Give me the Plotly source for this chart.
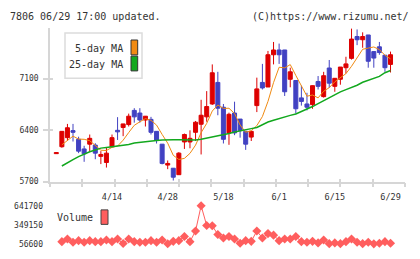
import plotly.graph_objects as go

# ---------------- data ----------------
dates = ["3/31", "4/1", "4/2", "4/3", "4/6", "4/7", "4/8", "4/9", "4/10", "4/13",
         "4/14", "4/15", "4/16", "4/17", "4/20", "4/21", "4/22", "4/23", "4/24", "4/27",
         "4/28", "4/30", "5/1", "5/7", "5/8", "5/11", "5/12", "5/13", "5/14", "5/15",
         "5/18", "5/19", "5/20", "5/21", "5/22", "5/25", "5/26", "5/27", "5/28", "5/29",
         "6/1", "6/2", "6/3", "6/4", "6/5", "6/8", "6/9", "6/10", "6/11", "6/12",
         "6/15", "6/16", "6/17", "6/18", "6/19", "6/22", "6/23", "6/24", "6/25", "6/26",
         "6/29"]

opens = [6080, 6174, 6297, 6393, 6275, 6144, 6209, 6196, 6043, 5960,
         6174, 6397, 6436, 6475, 6668, 6632, 6537, 6546, 6383, 6209,
         5925, 5882, 5794, 6239, 6239, 6370, 6480, 6580, 6755, 7048,
         6711, 6362, 6632, 6550, 6383, 6305, 6733, 7048, 6986, 7424,
         7489, 7489, 7091, 7074, 6838, 6755, 6746, 7061, 6855, 7244,
         6995, 7091, 7248, 7375, 7672, 7628, 7693, 7467, 7532, 7418,
         7293]
highs = [6095, 6383, 6484, 6484, 6310, 6187, 6340, 6222, 6114, 6166,
         6340, 6576, 6484, 6624, 6698, 6698, 6589, 6580, 6383, 6209,
         5987, 5882, 6100, 6353, 6397, 6524, 6812, 6930, 7293, 7192,
         6755, 6637, 6786, 6550, 6383, 6383, 7113, 7300, 7476, 7598,
         7576, 7489, 7248, 7074, 7004, 6907, 7004, 7135, 7192, 7353,
         7104, 7257, 7397, 7781, 7768, 7729, 7693, 7467, 7598, 7418,
         7467]
lows = [6080, 6160, 6252, 6245, 6087, 5969, 6114, 6004, 5938, 5891,
        6166, 6266, 6318, 6449, 6501, 6501, 6449, 6340, 6218, 5934,
        5869, 5715, 5794, 6144, 6153, 6252, 6069, 6514, 6742, 6602,
        6218, 6200, 6331, 6297, 6131, 6252, 6645, 6952, 6986, 7293,
        7300, 6864, 6982, 6624, 6733, 6668, 6690, 6952, 6842, 6973,
        6921, 7017, 7169, 7358, 7555, 7519, 7248, 7248, 7424, 7192,
        7183]
closes = [6095, 6383, 6432, 6370, 6114, 6078, 6288, 6087, 6069, 6087,
          6297, 6376, 6484, 6589, 6580, 6537, 6589, 6370, 6262, 5947,
          5947, 5760, 6087, 6340, 6288, 6507, 6602, 6720, 7179, 6698,
          6275, 6615, 6362, 6393, 6209, 6383, 6960, 6973, 7424, 7489,
          7424, 6921, 7192, 6690, 6790, 6711, 7004, 6995, 7139, 7038,
          7104, 7257, 7300, 7637, 7628, 7672, 7336, 7379, 7454, 7248,
          7424]

ma5 = [None, 6200, 6253, 6318, 6278, 6275, 6256, 6187, 6127, 6122,
       6166, 6183, 6263, 6367, 6465, 6513, 6556, 6533, 6468, 6341,
       6223, 6057, 6001, 6016, 6084, 6196, 6365, 6491, 6659, 6741,
       6695, 6697, 6626, 6469, 6371, 6392, 6461, 6584, 6790, 7046,
       7254, 7246, 7290, 7143, 7003, 6861, 6877, 6838, 6928, 6977,
       7056, 7107, 7168, 7267, 7385, 7499, 7515, 7530, 7494, 7418,
       7368]
ma25 = [None, 5912, 5960, 6000, 6040, 6075, 6105, 6130, 6155, 6165,
        6175, 6185, 6195, 6205, 6225, 6235, 6245, 6252, 6260, 6265,
        6272, 6270, 6268, 6265, 6262, 6265, 6275, 6290, 6300, 6320,
        6340, 6355, 6375, 6393, 6405, 6420, 6436, 6475, 6510, 6535,
        6559, 6580, 6600, 6620, 6650, 6685, 6720, 6760, 6800, 6840,
        6890, 6920, 6950, 6975, 7010, 7050, 7075, 7095, 7130, 7180,
        7210]

volume = [None, 90800, 131000, 80400, 105700, 80400, 105700, 90800, 90800, 116200,
          90800, 131000, 62000, 131000, 90800, 80400, 80400, 105700, 80400, 116200,
          58000, 95300, 105700, 169800, 90800, 254600, 641700, 339500, 335000, 199500,
          146000, 169800, 131000, 65500, 105700, 95300, 254600, 146000, 214400, 190600,
          105700, 131000, 131000, 169800, 90800, 80400, 95300, 71500, 116200, 60000,
          71500, 60000, 90800, 131000, 80400, 60000, 80400, 56600, 65500, 90800,
          65500]

price_ticks = [5700, 6400, 7100]
vol_ticks = [56600, 349150, 641700]
label_dates = ["4/14", "4/28", "5/18", "6/1", "6/15", "6/29"]

# ---------------- styling ----------------
W, H = 420, 259
UP = "#dd0000"
DOWN = "#4242c2"
ORANGE = "#f08a12"
GREEN = "#12a81e"
VOLC = "#ff5e5e"
AXC = "#d6d6d6"
TXT = "#333333"
FONT = "DejaVu Sans Mono"

def px_x(p):
    return p / W

def px_y(p):
    return 1 - p / H

x = list(range(len(dates)))
colors = [UP if c >= o else DOWN for o, c in zip(opens, closes)]
base = [min(o, c) for o, c in zip(opens, closes)]
body = [abs(c - o) for o, c in zip(opens, closes)]

xr = [-1.13, 62.6]
yr = [5700, 7786]
div_ticks = [xr[0] + k * (xr[1] - xr[0]) / 11 for k in range(12)]
label_pos = [dates.index(d) for d in label_dates]

fig = go.Figure()

# wicks
for col in (UP, DOWN):
    wx, wy = [], []
    for i in x:
        if colors[i] == col:
            wx += [i, i, None]
            wy += [lows[i], highs[i], None]
    fig.add_trace(go.Scatter(x=wx, y=wy, mode="lines", line=dict(color=col, width=1),
                             hoverinfo="skip", cliponaxis=False))

# bodies
fig.add_trace(go.Bar(x=x, y=body, base=base, width=0.72,
                     marker=dict(color=colors, line=dict(color=colors, width=1)),
                     cliponaxis=False))

# moving averages
fig.add_trace(go.Scatter(x=x, y=ma5, mode="lines", line=dict(color=ORANGE, width=1)))
fig.add_trace(go.Scatter(x=x, y=ma25, mode="lines", line=dict(color=GREEN, width=1.5)))

# volume
fig.add_trace(go.Scatter(x=x, y=volume, mode="lines+markers", xaxis="x2", yaxis="y2",
                         line=dict(color=VOLC, width=1),
                         marker=dict(symbol="diamond", size=7, color=VOLC),
                         cliponaxis=False))

# invisible carriers so the helper axes (inside ticks, date labels) get drawn
fig.add_trace(go.Scatter(x=[x[0]], y=[closes[0]], xaxis="x3", yaxis="y3", mode="markers",
                         marker=dict(opacity=0), hoverinfo="skip"))
fig.add_trace(go.Scatter(x=[x[0]], y=[closes[0]], xaxis="x4", yaxis="y", mode="markers",
                         marker=dict(opacity=0), hoverinfo="skip"))

xdom = [px_x(50), px_x(405)]
ydom = [px_y(184), px_y(25)]
vdom = [px_y(248.5), px_y(209)]
tickfont8 = dict(family=FONT, size=8, color=TXT)

fig.update_layout(
    width=W, height=H, margin=dict(l=0, r=0, t=0, b=0),
    paper_bgcolor="white", plot_bgcolor="white",
    showlegend=False, barmode="overlay",
    font=dict(family=FONT, color=TXT, size=8),
    xaxis=dict(domain=xdom, range=xr, anchor="y", showgrid=False, zeroline=False,
               showline=True, linecolor=AXC, linewidth=1.5,
               tickmode="array", tickvals=div_ticks, ticks="outside", ticklen=4,
               tickcolor=AXC, tickwidth=1.5, showticklabels=False),
    xaxis3=dict(domain=xdom, range=xr, anchor="y3", overlaying="x", showgrid=False,
                zeroline=False, showline=False, tickmode="array", tickvals=div_ticks,
                ticks="inside", ticklen=3, tickcolor=AXC, tickwidth=1.5,
                showticklabels=False),
    xaxis4=dict(domain=xdom, range=xr, anchor="y", overlaying="x", side="bottom",
                showgrid=False, zeroline=False, showline=False, ticks="",
                tickmode="array", tickvals=label_pos, ticktext=label_dates,
                tickfont=dict(family=FONT, size=8.5, color=TXT), ticklabelstandoff=9),
    yaxis=dict(domain=ydom, range=yr, anchor="x", showgrid=False, zeroline=False,
               showline=True, linecolor=AXC, linewidth=1.5,
               tickmode="array", tickvals=price_ticks, ticks="outside", ticklen=5,
               tickcolor=AXC, tickwidth=1.5, tickfont=tickfont8,
               ticklabelstandoff=3),
    yaxis3=dict(domain=ydom, range=yr, anchor="x3", overlaying="y", showgrid=False,
                zeroline=False, showline=False, tickmode="array", tickvals=price_ticks,
                ticks="inside", ticklen=3, tickcolor=AXC, tickwidth=1.5,
                showticklabels=False),
    xaxis2=dict(domain=xdom, range=xr, anchor="y2", showgrid=False,
                zeroline=False, showline=False, ticks="", showticklabels=False),
    yaxis2=dict(domain=vdom, range=[vol_ticks[0], vol_ticks[-1]], anchor="x2",
                showgrid=False, zeroline=False, showline=False, ticks="",
                tickmode="array", tickvals=vol_ticks,
                ticktext=[str(v) for v in vol_ticks],
                tickfont=tickfont8, ticklabelstandoff=6),
)

shapes = [
    dict(type="rect", xref="paper", yref="paper", x0=px_x(65), x1=px_x(142),
         y0=px_y(77), y1=px_y(30), line=dict(color="#dcdcdc", width=1.5),
         fillcolor="white", layer="above"),
    dict(type="rect", xref="paper", yref="paper", x0=px_x(131), x1=px_x(137.7),
         y0=px_y(52.7), y1=px_y(37.3), line=dict(color="#333", width=1),
         fillcolor=ORANGE, layer="above"),
    dict(type="rect", xref="paper", yref="paper", x0=px_x(131), x1=px_x(137.7),
         y0=px_y(69.3), y1=px_y(54), line=dict(color="#333", width=1),
         fillcolor=GREEN, layer="above"),
    dict(type="rect", xref="paper", yref="paper", x0=px_x(101), x1=px_x(108),
         y0=px_y(228.3), y1=px_y(213.3), line=dict(color="#444", width=1),
         fillcolor=VOLC, layer="above"),
]
fig.update_layout(shapes=shapes)

def ann(text, xp, yp, anchor):
    fig.add_annotation(text=text, xref="paper", yref="paper", x=px_x(xp), y=px_y(yp),
                       xanchor=anchor, yanchor="middle", showarrow=False,
                       font=dict(family=FONT, size=10, color=TXT))

ann("7806 06/29 17:00 updated.", 8, 13, "left")
ann("(C)https://www.rizumu.net/", 411, 13, "right")
ann("5-day MA", 125, 46, "right")
ann("25-day MA", 125, 62.7, "right")
ann("Volume", 95, 221.5, "right")

fig.write_html("out.html")
